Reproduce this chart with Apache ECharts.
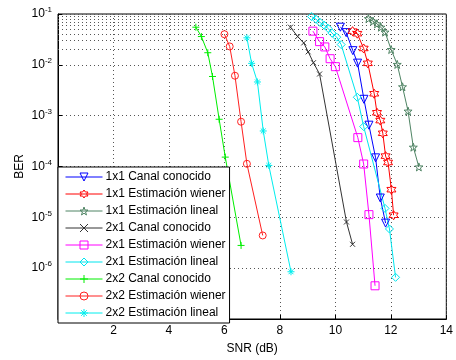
<!DOCTYPE html>
<html>
<head>
<meta charset="utf-8">
<script src="https://cdn.jsdelivr.net/npm/echarts@6/dist/echarts.min.js"></script>
<style>
  html, body { margin: 0; padding: 0; background: #fff; }
  #chart { width: 456px; height: 360px; }
</style>
</head>
<body>
<div id="chart"></div>
<script>
// 数据：SNR (dB) / BER
const names = [
  '1x1 Canal conocido', '1x1 Estimación wiener', '1x1 Estimación lineal',
  '2x1 Canal conocido', '2x1 Estimación wiener', '2x1 Estimación lineal',
  '2x2 Canal conocido', '2x2 Estimación wiener', '2x2 Estimación lineal'
];

const snr1x1Canal = [10.18, 10.39, 10.63, 10.80, 11.03, 11.21, 11.45, 11.62, 11.81];
const ber1x1Canal = [5.5e-2, 4.3e-2, 1.9e-2, 1.08e-2, 2.1e-3, 6.5e-4, 1.48e-4, 2.4e-5, 7.7e-6];

const snr1x1Wiener = [10.62, 10.79, 11.02, 11.17, 11.40, 11.50, 11.62, 11.71, 11.81, 11.90, 12.02, 12.10];
const ber1x1Wiener = [4.6e-2, 4.1e-2, 2.1e-2, 1.07e-2, 2.7e-3, 1.14e-3, 8.0e-4, 4.5e-4, 1.6e-4, 1.2e-4, 3.5e-5, 1.1e-5];

const snr1x1Lineal = [11.19, 11.36, 11.50, 11.64, 11.79, 12.01, 12.23, 12.42, 12.62, 12.81, 13.01];
const ber1x1Lineal = [8.1e-2, 7.2e-2, 6.4e-2, 5.5e-2, 4.4e-2, 2.0e-2, 1.02e-2, 3.7e-3, 1.23e-3, 2.4e-4, 9.8e-5];

const snr2x1Canal = [8.38, 8.64, 8.86, 9.02, 9.21, 9.43, 10.40, 10.62];
const ber2x1Canal = [5.5e-2, 3.6e-2, 2.7e-2, 1.8e-2, 1.1e-2, 6.6e-3, 8.1e-6, 2.95e-6];

const snr2x1Wiener = [9.19, 9.43, 9.62, 9.81, 10.00, 10.81, 11.02, 11.21, 11.43];
const ber2x1Wiener = [4.6e-2, 2.86e-2, 2.25e-2, 1.32e-2, 9.2e-3, 3.7e-4, 1.12e-4, 1.13e-5, 4.5e-7];

const snr2x1Lineal = [9.14, 9.30, 9.45, 9.60, 9.74, 9.88, 10.05, 10.21, 10.79, 11.02, 11.79, 11.95, 12.17];
const ber2x1Lineal = [8.9e-2, 7.9e-2, 6.8e-2, 6.0e-2, 5.2e-2, 4.2e-2, 3.5e-2, 2.5e-2, 2.3e-3, 6.1e-4, 1.5e-5, 5.9e-6, 6.6e-7];

const snr2x2Canal = [4.97, 5.17, 5.40, 5.57, 5.81, 6.03, 6.60];
const ber2x2Canal = [5.5e-2, 3.6e-2, 1.73e-2, 5.9e-3, 8.5e-4, 1.53e-4, 2.8e-6];

const snr2x2Wiener = [6.00, 6.19, 6.38, 6.60, 6.81, 7.38];
const ber2x2Wiener = [4.0e-2, 2.3e-2, 6.1e-3, 7.6e-4, 1.13e-4, 4.4e-6];

const snr2x2Lineal = [6.81, 6.98, 7.19, 7.40, 7.60, 8.40];
const ber2x2Lineal = [3.4e-2, 1.07e-2, 4.6e-3, 5.0e-4, 1.05e-4, 8.5e-7];

const xTicks = [2, 4, 6, 8, 10, 12, 14];
const yDecades = [-7, -6, -5, -4, -3, -2, -1];

// 标记形状（MATLAB 风格）
const SYM_X = 'path://M0,0L10,10M10,0L0,10';
const SYM_PLUS = 'path://M5,0L5,10M0,5L10,5';
const SYM_AST = 'path://M5,0L5,10M0,5L10,5M1.5,1.5L8.5,8.5M8.5,1.5L1.5,8.5';
const SYM_HEXA = 'path://M5,0L6.44,2.5L9.33,2.5L7.89,5L9.33,7.5L6.44,7.5L5,10L3.56,7.5L0.67,7.5L2.11,5L0.67,2.5L3.56,2.5Z';
const SYM_PENTA = 'path://M5,0L6.18,3.38L9.76,3.45L6.9,5.62L7.94,9.05L5,7L2.06,9.05L3.1,5.62L0.24,3.45L3.82,3.38Z';

const font = '"Liberation Sans", Arial, sans-serif';
const gridDot = { color: '#555', width: 1, type: [1, 3] };

function makeSeries(name, xs, ys, color, symbol, size, rotate) {
  return {
    name: name,
    type: 'line',
    data: xs.map((x, i) => [x, ys[i]]),
    symbol: symbol,
    symbolSize: size,
    symbolRotate: rotate || 0,
    showAllSymbol: true,
    lineStyle: { color: color, width: 1 },
    itemStyle: { color: 'rgba(0,0,0,0)', borderColor: color, borderWidth: 1 },
    emphasis: { disabled: true },
    z: 3,
  };
}

// 次网格线（对数轴每个十倍程内 2..9）
const minorLines = [];
yDecades.slice(0, -1).forEach((d) => {
  for (let m = 2; m <= 9; m++) minorLines.push({ yAxis: m * Math.pow(10, d) });
});

const series = [
  makeSeries(names[0], snr1x1Canal, ber1x1Canal, '#0000ff', 'triangle', 8, 180),
  makeSeries(names[1], snr1x1Wiener, ber1x1Wiener, '#ff0000', SYM_HEXA, 9),
  makeSeries(names[2], snr1x1Lineal, ber1x1Lineal, '#4f8464', SYM_PENTA, 8),
  makeSeries(names[3], snr2x1Canal, ber2x1Canal, '#333333', SYM_X, 5),
  makeSeries(names[4], snr2x1Wiener, ber2x1Wiener, '#ff00ff', 'rect', 8),
  makeSeries(names[5], snr2x1Lineal, ber2x1Lineal, '#00e5ee', 'diamond', 8),
  makeSeries(names[6], snr2x2Canal, ber2x2Canal, '#00ee00', SYM_PLUS, 7),
  makeSeries(names[7], snr2x2Wiener, ber2x2Wiener, '#ff2020', 'circle', 7),
  makeSeries(names[8], snr2x2Lineal, ber2x2Lineal, '#00eeee', SYM_AST, 7),
];

series[0].markLine = {
  silent: true,
  symbol: 'none',
  z: 1,
  label: { show: false },
  lineStyle: gridDot,
  emphasis: { disabled: true },
  data: minorLines,
};

const chart = echarts.init(document.getElementById('chart'), null, { renderer: 'canvas' });

chart.setOption({
  animation: false,
  backgroundColor: '#fff',
  grid: {
    left: 58, right: 6, top: 14, bottom: 37,
    show: true, borderColor: '#000', borderWidth: 1, backgroundColor: 'transparent',
  },
  legend: {
    data: names,
    orient: 'vertical',
    left: 58,
    top: 167,
    padding: [3, 4, 3, 7],
    itemGap: 3,
    itemWidth: 37,
    itemHeight: 10,
    lineStyle: { width: 1 },
    itemStyle: { borderWidth: 1 },
    backgroundColor: '#fff',
    borderColor: '#000',
    borderWidth: 1,
    borderRadius: 0,
    textStyle: { fontFamily: font, fontSize: 12, lineHeight: 14, color: '#000', padding: [0, 0, 0, -2] },
  },
  xAxis: {
    type: 'value',
    min: 0,
    max: 14,
    interval: 2,
    name: 'SNR (dB)',
    nameLocation: 'middle',
    nameGap: 24,
    nameMoveOverlap: false,
    nameTextStyle: { fontFamily: font, fontSize: 12, color: '#000' },
    axisLine: { show: true, lineStyle: { color: '#000' } },
    axisTick: { show: true, inside: true, length: 4, lineStyle: { color: '#000' } },
    axisLabel: {
      fontFamily: font, fontSize: 12, color: '#000', margin: 6,
      formatter: (v) => (xTicks.indexOf(v) >= 0 ? String(v) : ''),
    },
    splitLine: { show: true, lineStyle: gridDot },
  },
  yAxis: {
    type: 'log',
    logBase: 10,
    min: 1e-7,
    max: 1e-1,
    name: 'BER',
    nameLocation: 'middle',
    nameGap: 32,
    nameMoveOverlap: false,
    nameTextStyle: { fontFamily: font, fontSize: 12, color: '#000' },
    axisLine: { show: true, lineStyle: { color: '#000' } },
    axisTick: { show: true, inside: true, length: 4, lineStyle: { color: '#000' } },
    axisLabel: {
      fontFamily: font, color: '#000', margin: 6,
      formatter: (v) => {
        const e = Math.round(Math.log10(v));
        if (e === -7) return '';
        return '{b|10}{s|' + e + '}';
      },
      rich: {
        b: { fontFamily: font, fontSize: 12, color: '#000' },
        s: { fontFamily: font, fontSize: 8, color: '#000', verticalAlign: 'top', padding: [0, 0, 8, 0] },
      },
    },
    splitLine: { show: true, lineStyle: gridDot },
  },
  series: series,
});
</script>
</body>
</html>
